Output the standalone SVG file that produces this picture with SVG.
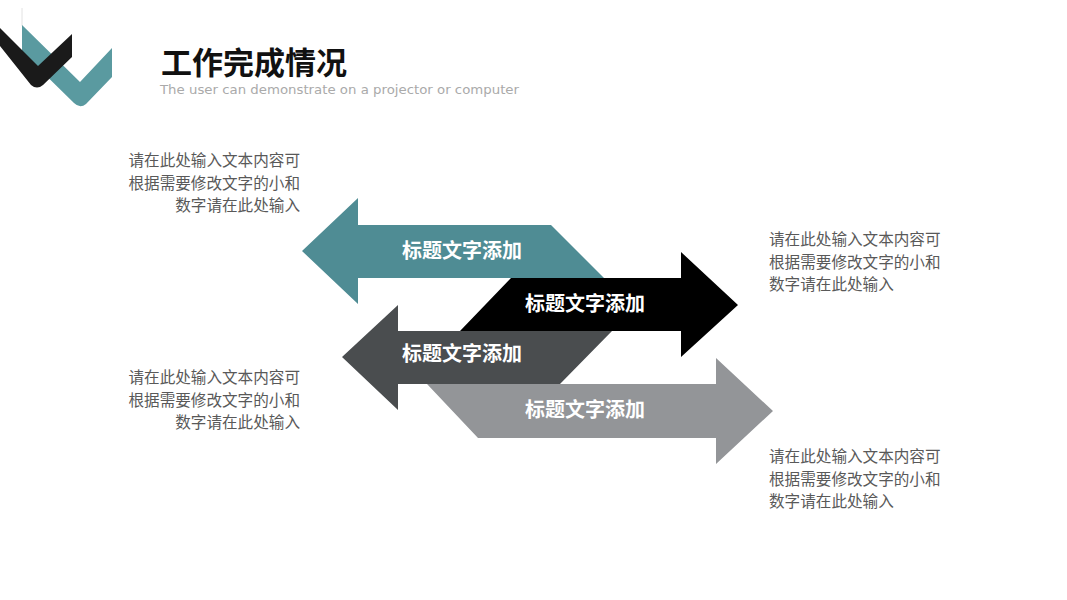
<svg xmlns="http://www.w3.org/2000/svg" width="1067" height="600" viewBox="0 0 1067 600">
  <style>
    .title { font-family: "Noto Sans CJK SC", "Noto Sans", sans-serif; font-weight: 700; font-size: 31px; fill: #111111; }
    .sub { font-family: "DejaVu Sans", sans-serif; font-size: 13px; fill: #aaaaaa; }
    .body { font-family: "Noto Sans CJK SC", sans-serif; font-size: 15.6px; fill: #595959; }
    .lbl { font-family: "Noto Sans CJK SC", sans-serif; font-weight: 700; font-size: 20px; fill: #ffffff; text-anchor: middle; }
  </style>
  <rect width="1067" height="600" fill="#ffffff"/>
  <g id="logo">
    <line x1="22" y1="8" x2="22" y2="26" stroke="#e2e2e2" stroke-width="1"/>
    <path d="M22,25 L80,82 L112,48 L112,77 L86,104 Q80,109 74,103 L22,52 Z" fill="#5a9aa0"/>
    <path d="M0,28 L38,66 L72,34 L72,57 L43,85 Q37,90 31,85 L0,46 Z" fill="#1a1a1a"/>
  </g>
  <g id="header">
    <text class="title" x="161" y="74">工作完成情况</text>
    <text class="sub" x="160" y="94" textLength="359" lengthAdjust="spacingAndGlyphs">The user can demonstrate on a projector or computer</text>
  </g>
  <g id="connectors"></g>
  <g id="arrow1">
    <polygon points="302,251 358,198 358,225 551,225 604,278 358,278 358,304" fill="#4f8c94"/>
    <text class="lbl" x="462" y="258">标题文字添加</text>
  </g>
  <g id="arrow2">
    <polygon points="738,305 681,252 681,278 511,278 460,331 681,331 681,357" fill="#000000"/>
    <text class="lbl" x="585" y="311">标题文字添加</text>
  </g>
  <g id="arrow3">
    <polygon points="342,357 398,305 398,331 612,331 560,384 398,384 398,410" fill="#4a4d4f"/>
    <text class="lbl" x="462" y="361">标题文字添加</text>
  </g>
  <g id="arrow4">
    <polygon points="773,411 716,358 716,384 427,384 478,438 716,438 716,464" fill="#939598"/>
    <text class="lbl" x="585" y="417">标题文字添加</text>
  </g>
  <g id="text-left-top">
    <text class="body" x="300" y="166" text-anchor="end">请在此处输入文本内容可</text>
    <text class="body" x="300" y="188.5" text-anchor="end">根据需要修改文字的小和</text>
    <text class="body" x="300" y="211" text-anchor="end">数字请在此处输入</text>
  </g>
  <g id="text-left-bottom">
    <text class="body" x="300" y="383" text-anchor="end">请在此处输入文本内容可</text>
    <text class="body" x="300" y="405.5" text-anchor="end">根据需要修改文字的小和</text>
    <text class="body" x="300" y="428" text-anchor="end">数字请在此处输入</text>
  </g>
  <g id="text-right-top">
    <text class="body" x="769" y="245">请在此处输入文本内容可</text>
    <text class="body" x="769" y="267.5">根据需要修改文字的小和</text>
    <text class="body" x="769" y="290">数字请在此处输入</text>
  </g>
  <g id="text-right-bottom">
    <text class="body" x="769" y="462">请在此处输入文本内容可</text>
    <text class="body" x="769" y="484.5">根据需要修改文字的小和</text>
    <text class="body" x="769" y="507">数字请在此处输入</text>
  </g>
</svg>
